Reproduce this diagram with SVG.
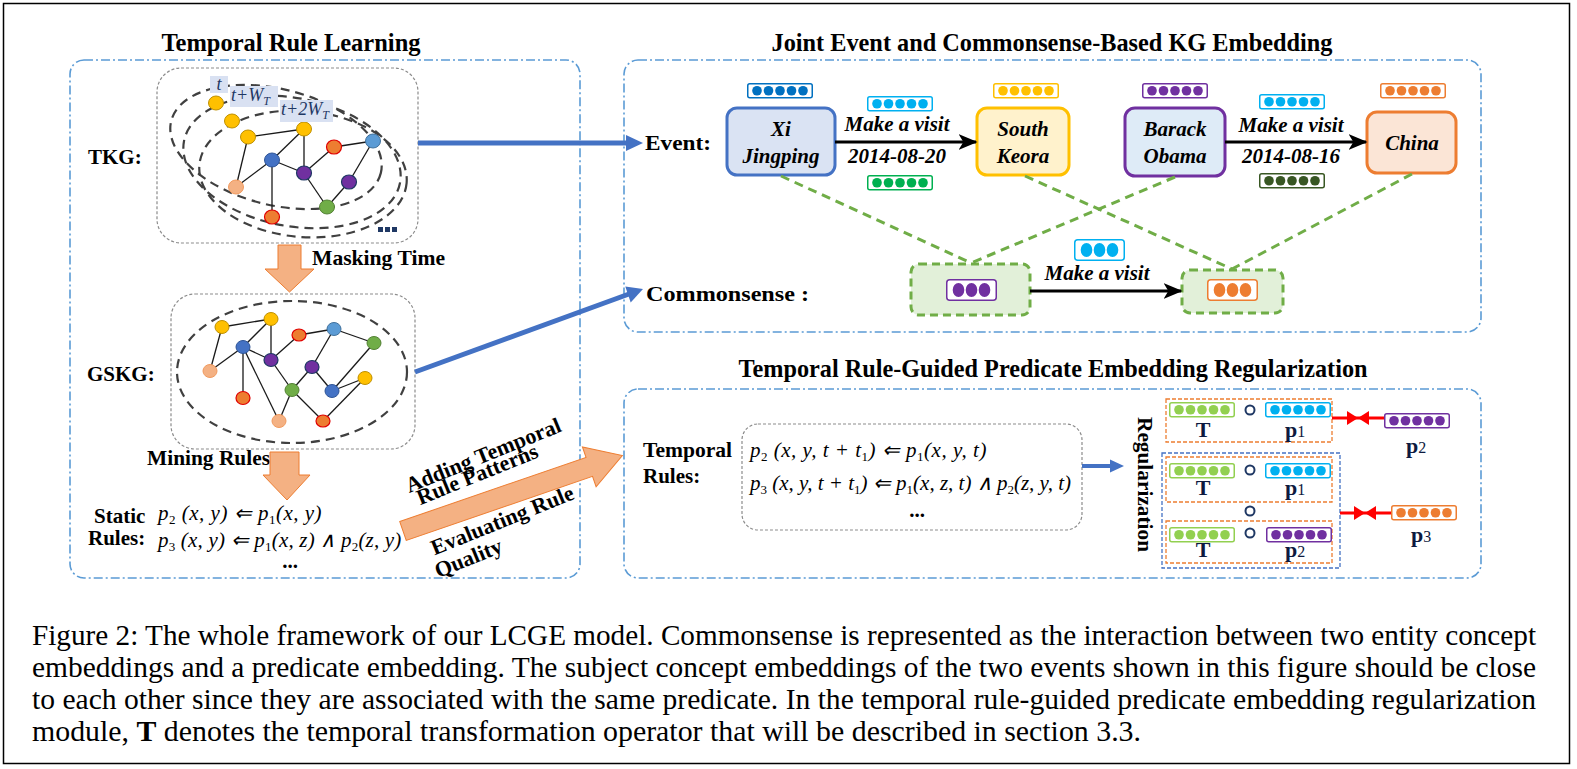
<svg xmlns="http://www.w3.org/2000/svg" width="1577" height="769" viewBox="0 0 1577 769">
<defs>
<style>
.panel{fill:none;stroke:#5B9BD5;stroke-width:1.6;stroke-dasharray:9 3 2 3}
.gbox{fill:none;stroke:#8c8c8c;stroke-width:1.2;stroke-dasharray:3 2}
.ell{fill:none;stroke:#404040;stroke-width:2.2;stroke-dasharray:9 6}
.edge{stroke:#1a1a1a;stroke-width:1.3}
.title{font-family:"Liberation Serif","Times New Roman",serif;font-weight:bold;font-size:25px;text-anchor:middle;fill:#000}
.lbl{font-family:"Liberation Serif","Times New Roman",serif;font-weight:bold;font-size:21px;fill:#000}
.ent{font-family:"Liberation Serif","Times New Roman",serif;font-weight:bold;font-style:italic;font-size:21px;text-anchor:middle;fill:#000}
.math{font-family:"Liberation Serif","Times New Roman",serif;font-style:italic;font-size:21px;letter-spacing:0.5px;fill:#000}
.sb{font-size:13px;font-style:normal}
.cap{font-family:"Liberation Serif","Times New Roman",serif;font-size:29px;fill:#000}
.tl{font-family:"Liberation Serif","Times New Roman",serif;font-style:italic;font-size:18px;fill:#1F3864}
.tlb{fill:#D9E1F2}
.gdash{stroke:#70AD47;stroke-width:3;stroke-dasharray:9 6;fill:none}
.ny{fill:#FFC000;stroke:#BF9000;stroke-width:1}
.nb{fill:#4472C4;stroke:#2F5597;stroke-width:1}
.np{fill:#7030A0;stroke:#1F3864;stroke-width:1.2}
.nr{fill:#ED7D31;stroke:#E00000;stroke-width:1.2}
.nl{fill:#5B9BD5;stroke:#41719C;stroke-width:1}
.ng{fill:#70AD47;stroke:#548235;stroke-width:1}
.npe{fill:#F4B183;stroke:#F19A5E;stroke-width:1}
.block{fill:#F4B183;stroke:#ED7D31;stroke-width:1}
.ebox{stroke-width:3}
.ob{fill:none;stroke:#ED7D31;stroke-width:1.3;stroke-dasharray:4 2}
.op{fill:none;stroke:#1F3864;stroke-width:2}
.reg{font-family:"Liberation Serif","Times New Roman",serif;font-weight:bold;font-size:22px;fill:#0D1A40;text-anchor:middle}
.sub{font-weight:normal;font-size:16px}
</style>
<g id="emb5">
<rect x="0.75" y="0.75" width="64.5" height="14" rx="2" fill="#fff" stroke="currentColor" stroke-width="1.5"/>
<circle cx="10" cy="7.75" r="4.8" fill="currentColor"/>
<circle cx="21.5" cy="7.75" r="4.8" fill="currentColor"/>
<circle cx="33" cy="7.75" r="4.8" fill="currentColor"/>
<circle cx="44.5" cy="7.75" r="4.8" fill="currentColor"/>
<circle cx="56" cy="7.75" r="4.8" fill="currentColor"/>
</g>
<g id="emb3">
<rect x="0.75" y="0.75" width="49.5" height="20.5" rx="3" fill="#fff" stroke="currentColor" stroke-width="1.5"/>
<ellipse cx="12.5" cy="11" rx="5.8" ry="7" fill="currentColor"/>
<ellipse cx="25.5" cy="11" rx="5.8" ry="7" fill="currentColor"/>
<ellipse cx="38.5" cy="11" rx="5.8" ry="7" fill="currentColor"/>
</g>
<marker id="ahk" viewBox="0 0 12 10" refX="11" refY="5" markerWidth="19" markerHeight="16" markerUnits="userSpaceOnUse" orient="auto">
<path d="M0,0 L12,5 L0,10 L3,5 z" fill="#000"/>
</marker>
</defs>

<rect x="3.5" y="3.5" width="1566" height="760" fill="#fff" stroke="#000" stroke-width="1.5"/>

<!-- panels -->
<g id="panel-left">
<rect class="panel" x="70" y="60" width="510" height="518" rx="14"/>
<text class="title" x="291" y="51" textLength="259" lengthAdjust="spacingAndGlyphs">Temporal Rule Learning</text>
</g>
<g id="panel-joint">
<rect class="panel" x="624" y="60" width="857" height="272" rx="14"/>
<text class="title" x="1052" y="51" textLength="561" lengthAdjust="spacingAndGlyphs">Joint Event and Commonsense-Based KG Embedding</text>
</g>
<g id="panel-rule">
<rect class="panel" x="624" y="389" width="857" height="189" rx="14"/>
<text class="title" x="1053" y="377" textLength="629" lengthAdjust="spacingAndGlyphs">Temporal Rule-Guided Predicate Embedding Regularization</text>
</g>

<!-- TKG -->
<g id="tkg">
<rect class="gbox" x="157" y="68" width="261" height="175" rx="24"/>
<ellipse class="ell" cx="276" cy="147" rx="108" ry="58" transform="rotate(14 276 147)"/>
<ellipse class="ell" cx="292" cy="162" rx="110" ry="64" transform="rotate(11 292 162)"/>
<ellipse class="ell" cx="303" cy="174" rx="104" ry="63" transform="rotate(5 303 174)"/>
<g>
<line class="edge" x1="248" y1="137" x2="304" y2="129"/>
<line class="edge" x1="248" y1="137" x2="236" y2="187"/>
<line class="edge" x1="304" y1="129" x2="272" y2="160"/>
<line class="edge" x1="304" y1="129" x2="304" y2="173"/>
<line class="edge" x1="272" y1="160" x2="236" y2="187"/>
<line class="edge" x1="272" y1="160" x2="304" y2="173"/>
<line class="edge" x1="272" y1="160" x2="272" y2="217"/>
<line class="edge" x1="304" y1="173" x2="334" y2="147"/>
<line class="edge" x1="304" y1="173" x2="327" y2="207"/>
<line class="edge" x1="334" y1="147" x2="373" y2="141"/>
<line class="edge" x1="373" y1="141" x2="349" y2="182"/>
<line class="edge" x1="349" y1="182" x2="327" y2="207"/>
</g>
<ellipse class="ny" cx="216" cy="103" rx="7.5" ry="7"/>
<ellipse class="ny" cx="232" cy="121" rx="7.5" ry="7"/>
<ellipse class="ny" cx="248" cy="137" rx="7.5" ry="7"/>
<ellipse class="ny" cx="304" cy="129" rx="7.5" ry="7"/>
<ellipse class="nb" cx="272" cy="160" rx="7.5" ry="7"/>
<ellipse class="np" cx="304" cy="173" rx="7.5" ry="7"/>
<ellipse class="nr" cx="334" cy="147" rx="7.5" ry="7"/>
<ellipse class="nl" cx="373" cy="141" rx="7.5" ry="7"/>
<ellipse class="np" cx="349" cy="182" rx="7.5" ry="7"/>
<ellipse class="ng" cx="327" cy="207" rx="7.5" ry="7"/>
<ellipse class="npe" cx="236" cy="187" rx="7.5" ry="7"/>
<ellipse class="nr" cx="272" cy="217" rx="7.5" ry="7"/>
<rect class="tlb" x="210" y="76" width="18" height="17"/>
<text class="tl" x="219" y="90" text-anchor="middle">t</text>
<rect class="tlb" x="230" y="86" width="48" height="21"/>
<text class="tl" x="231" y="101">t+W<tspan font-size="12" dy="4">T</tspan></text>
<rect class="tlb" x="280" y="100" width="53" height="22"/>
<text class="tl" x="281" y="115">t+2W<tspan font-size="12" dy="4">T</tspan></text>
<rect x="378" y="227" width="5" height="5" fill="#1F3864"/>
<rect x="385" y="227" width="5" height="5" fill="#1F3864"/>
<rect x="392" y="227" width="5" height="5" fill="#1F3864"/>
<text class="lbl" x="88" y="164">TKG:</text>
</g>

<!-- GSKG -->
<g id="gskg">
<rect class="gbox" x="171" y="294" width="244" height="155" rx="24"/>
<ellipse class="ell" cx="292" cy="372" rx="115" ry="71"/>
<g>
<line class="edge" x1="222" y1="327" x2="271" y2="319"/>
<line class="edge" x1="222" y1="327" x2="210" y2="371"/>
<line class="edge" x1="271" y1="319" x2="243" y2="347"/>
<line class="edge" x1="271" y1="319" x2="271" y2="360"/>
<line class="edge" x1="243" y1="347" x2="210" y2="371"/>
<line class="edge" x1="243" y1="347" x2="271" y2="360"/>
<line class="edge" x1="243" y1="347" x2="243" y2="398"/>
<line class="edge" x1="243" y1="347" x2="279" y2="421"/>
<line class="edge" x1="271" y1="360" x2="299" y2="335"/>
<line class="edge" x1="271" y1="360" x2="292" y2="390"/>
<line class="edge" x1="299" y1="335" x2="334" y2="329"/>
<line class="edge" x1="334" y1="329" x2="312" y2="367"/>
<line class="edge" x1="334" y1="329" x2="374" y2="343"/>
<line class="edge" x1="374" y1="343" x2="332" y2="391"/>
<line class="edge" x1="312" y1="367" x2="292" y2="390"/>
<line class="edge" x1="312" y1="367" x2="332" y2="391"/>
<line class="edge" x1="332" y1="391" x2="365" y2="378"/>
<line class="edge" x1="292" y1="390" x2="279" y2="421"/>
<line class="edge" x1="292" y1="390" x2="323" y2="421"/>
<line class="edge" x1="365" y1="378" x2="323" y2="421"/>
</g>
<ellipse class="ny" cx="222" cy="327" rx="7" ry="6.5"/>
<ellipse class="ny" cx="271" cy="319" rx="7" ry="6.5"/>
<ellipse class="nb" cx="243" cy="347" rx="7" ry="6.5"/>
<ellipse class="npe" cx="210" cy="371" rx="7" ry="6.5"/>
<ellipse class="nr" cx="243" cy="398" rx="7" ry="6.5"/>
<ellipse class="np" cx="271" cy="360" rx="7" ry="6.5"/>
<ellipse class="nr" cx="299" cy="335" rx="7" ry="6"/>
<ellipse class="nl" cx="334" cy="329" rx="7" ry="6.5"/>
<ellipse class="ng" cx="374" cy="343" rx="7" ry="6.5"/>
<ellipse class="np" cx="312" cy="367" rx="7" ry="6.5"/>
<ellipse class="ng" cx="292" cy="390" rx="7" ry="6.5"/>
<ellipse class="nb" cx="332" cy="391" rx="7" ry="6.5"/>
<ellipse class="ny" cx="365" cy="378" rx="7" ry="6.5"/>
<ellipse class="npe" cx="279" cy="421" rx="7" ry="6.5"/>
<ellipse class="nr" cx="323" cy="421" rx="7" ry="6"/>
<text class="lbl" x="87" y="381">GSKG:</text>
</g>

<g id="masking-label"><text class="lbl" x="312" y="265" font-size="22" textLength="133" lengthAdjust="spacingAndGlyphs">Masking Time</text></g>
<g id="mining-label"><text class="lbl" x="147" y="465" font-size="22" textLength="123" lengthAdjust="spacingAndGlyphs">Mining Rules</text></g>

<!-- static rules -->
<g id="static-rules">
<text class="lbl" x="94" y="523" font-size="22">Static</text>
<text class="lbl" x="88" y="545" font-size="22">Rules:</text>
<text class="math" x="158" y="520">p<tspan class="sb" dy="4">2</tspan><tspan dy="-4"> (x, y) ⇐ p</tspan><tspan class="sb" dy="4">1</tspan><tspan dy="-4">(x, y)</tspan></text>
<text class="math" x="158" y="547" style="letter-spacing:0.2px">p<tspan class="sb" dy="4">3</tspan><tspan dy="-4"> (x, y) ⇐ p</tspan><tspan class="sb" dy="4">1</tspan><tspan dy="-4">(x, z) ∧ p</tspan><tspan class="sb" dy="4">2</tspan><tspan dy="-4">(z, y)</tspan></text>
<text class="lbl" x="290" y="568" text-anchor="middle" font-size="17">...</text>
</g>

<!-- diagonal arrow labels -->
<g id="adding-label" font-family="Liberation Serif, Times New Roman, serif" font-weight="bold" font-size="22" text-anchor="middle">
<text x="486" y="462" transform="rotate(-22 486 462)">Adding Temporal</text>
<text x="480" y="481" transform="rotate(-22 480 481)">Rule Patterns</text>
<text x="505" y="527" transform="rotate(-22 505 527)">Evaluating Rule</text>
<text x="471" y="565" transform="rotate(-22 471 565)">Quality</text>
</g>

<!-- Event row -->
<g id="event-label"><text class="lbl" x="645" y="150" font-size="24" textLength="66" lengthAdjust="spacingAndGlyphs">Event:</text></g>
<g id="xi">
<rect class="ebox" x="727" y="108" width="108" height="67" rx="10" fill="#DAE3F3" stroke="#4472C4"/>
<text class="ent" x="781" y="136">Xi</text>
<text class="ent" x="781" y="163">Jingping</text>
<use href="#emb5" x="747" y="83" style="color:#0070C0"/>
</g>
<g id="south-keora">
<rect class="ebox" x="977" y="108" width="92" height="67" rx="10" fill="#FFF2CC" stroke="#FFC000"/>
<text class="ent" x="1023" y="136">South</text>
<text class="ent" x="1023" y="163">Keora</text>
<use href="#emb5" x="993" y="83" style="color:#FFC000"/>
</g>
<g id="barack">
<rect class="ebox" x="1125" y="108" width="100" height="68" rx="10" fill="#DEEBF7" stroke="#7030A0"/>
<text class="ent" x="1175" y="136">Barack</text>
<text class="ent" x="1175" y="163">Obama</text>
<use href="#emb5" x="1142" y="83" style="color:#7030A0"/>
</g>
<g id="china">
<rect class="ebox" x="1367" y="112" width="89" height="61" rx="10" fill="#FBE5D6" stroke="#ED7D31"/>
<text class="ent" x="1412" y="150">China</text>
<use href="#emb5" x="1380" y="83" style="color:#ED7D31"/>
</g>
<g id="rel1">
<use href="#emb5" x="867" y="96" style="color:#00B0F0"/>
<text class="ent" x="897" y="131">Make a visit</text>
<text class="ent" x="897" y="163">2014-08-20</text>
<use href="#emb5" x="867" y="175" style="color:#00B050"/>
</g>
<g id="rel2">
<use href="#emb5" x="1259" y="94" style="color:#00B0F0"/>
<text class="ent" x="1291" y="132">Make a visit</text>
<text class="ent" x="1291" y="163">2014-08-16</text>
<use href="#emb5" x="1259" y="173" style="color:#385723"/>
</g>

<!-- Commonsense row -->
<g id="commonsense-label"><text class="lbl" x="646" y="301" font-size="25" textLength="163" lengthAdjust="spacingAndGlyphs">Commonsense :</text></g>
<g id="cs1">
<rect x="911" y="264" width="119" height="51" rx="8" fill="#E2F0D9" stroke="#70AD47" stroke-width="3" stroke-dasharray="8 5"/>
<use href="#emb3" x="946" y="279" style="color:#7030A0"/>
</g>
<g id="cs2">
<rect x="1182" y="270" width="101" height="43" rx="8" fill="#E2F0D9" stroke="#70AD47" stroke-width="3" stroke-dasharray="8 5"/>
<use href="#emb3" x="1207" y="279" style="color:#ED7D31"/>
</g>
<g id="cs-rel">
<use href="#emb3" x="1074" y="239" style="color:#00B0F0"/>
<text class="ent" x="1097" y="280">Make a visit</text>
</g>

<!-- Temporal rules -->
<g id="temporal-rules">
<text class="lbl" x="643" y="457" font-size="22" textLength="89" lengthAdjust="spacingAndGlyphs">Temporal</text>
<text class="lbl" x="643" y="483" font-size="22">Rules:</text>
<rect class="gbox" x="742" y="424" width="340" height="106" rx="16"/>
<text class="math" x="750" y="457">p<tspan class="sb" dy="4">2</tspan><tspan dy="-4"> (x, y, t + t</tspan><tspan class="sb" dy="4">1</tspan><tspan dy="-4">) ⇐ p</tspan><tspan class="sb" dy="4">1</tspan><tspan dy="-4">(x, y, t)</tspan></text>
<text class="math" x="750" y="490" style="letter-spacing:0px">p<tspan class="sb" dy="4">3</tspan><tspan dy="-4"> (x, y, t + t</tspan><tspan class="sb" dy="4">1</tspan><tspan dy="-4">) ⇐ p</tspan><tspan class="sb" dy="4">1</tspan><tspan dy="-4">(x, z, t) ∧ p</tspan><tspan class="sb" dy="4">2</tspan><tspan dy="-4">(z, y, t)</tspan></text>
<text class="lbl" x="917" y="517" text-anchor="middle" font-size="17">...</text>
</g>

<!-- Regularization -->
<g id="regularization">
<text font-family="Liberation Serif, Times New Roman, serif" font-weight="bold" font-size="22" fill="#000" transform="translate(1138 417) rotate(90)" textLength="135" lengthAdjust="spacingAndGlyphs">Regularization</text>
<rect class="ob" x="1166" y="399" width="166" height="43"/>
<use href="#emb5" x="1169" y="402" style="color:#92D050"/>
<circle class="op" cx="1250" cy="410" r="4.5"/>
<use href="#emb5" x="1265" y="402" style="color:#00B0F0"/>
<text class="reg" x="1203" y="437">T</text>
<text class="reg" x="1295" y="437">p<tspan class="sub">1</tspan></text>
<rect x="1162" y="453" width="178" height="115" fill="none" stroke="#4472C4" stroke-width="1.3" stroke-dasharray="4 2"/>
<rect class="ob" x="1166" y="457" width="166" height="45"/>
<use href="#emb5" x="1169" y="463" style="color:#92D050"/>
<circle class="op" cx="1250" cy="470" r="4.5"/>
<use href="#emb5" x="1265" y="463" style="color:#00B0F0"/>
<text class="reg" x="1203" y="495">T</text>
<text class="reg" x="1295" y="495">p<tspan class="sub">1</tspan></text>
<circle class="op" cx="1250" cy="511" r="4.5"/>
<rect class="ob" x="1166" y="521" width="166" height="42"/>
<use href="#emb5" x="1169" y="527" style="color:#92D050"/>
<circle class="op" cx="1250" cy="533" r="4.5"/>
<use href="#emb5" x="1266" y="527" style="color:#7030A0"/>
<text class="reg" x="1203" y="557">T</text>
<text class="reg" x="1295" y="557">p<tspan class="sub">2</tspan></text>
</g>
<g id="p2-target">
<use href="#emb5" x="1384" y="413" style="color:#7030A0"/>
<text class="reg" x="1416" y="453">p<tspan class="sub">2</tspan></text>
</g>
<g id="p3-target">
<use href="#emb5" x="1391" y="505" style="color:#ED7D31"/>
<text class="reg" x="1421" y="542">p<tspan class="sub">3</tspan></text>
</g>

<!-- connectors -->
<g id="connectors">
<path class="block" d="M278,245 H301 V269 H314 L289.5,292 L265,269 H278 Z"/>
<path class="block" d="M270,452 H299 V475 H310 L287,500 L263,475 H270 Z"/>
<path class="block" d="M0,-10 H197 V-21 L232,0 L197,21 V10 H0 Z" transform="translate(403 531) rotate(-19)"/>
<line x1="418" y1="143" x2="628" y2="143" stroke="#4472C4" stroke-width="5"/>
<polygon points="626,135 643,143 626,151" fill="#4472C4"/>
<line x1="415" y1="372" x2="629" y2="294" stroke="#4472C4" stroke-width="5"/>
<polygon points="625.3,286.5 643,289 630.7,302.5" fill="#4472C4"/>
<line x1="1082" y1="466" x2="1112" y2="466" stroke="#4472C4" stroke-width="4"/>
<polygon points="1110,459.5 1124,466 1110,472.5" fill="#4472C4"/>
<line x1="835" y1="142" x2="976" y2="142" stroke="#000" stroke-width="3" marker-end="url(#ahk)"/>
<line x1="1225" y1="142" x2="1366" y2="142" stroke="#000" stroke-width="3" marker-end="url(#ahk)"/>
<line x1="1030" y1="291" x2="1181" y2="291" stroke="#000" stroke-width="3" marker-end="url(#ahk)"/>
<line class="gdash" x1="781" y1="176" x2="971" y2="263"/>
<line class="gdash" x1="1175" y1="177" x2="971" y2="263"/>
<line class="gdash" x1="1025" y1="176" x2="1232" y2="269"/>
<line class="gdash" x1="1412" y1="174" x2="1232" y2="269"/>
<line x1="1332" y1="418" x2="1384" y2="418" stroke="#FF0000" stroke-width="3"/>
<polygon points="1347,411 1358,418 1347,425" fill="#FF0000"/>
<polygon points="1369,411 1358,418 1369,425" fill="#FF0000"/>
<line x1="1340" y1="513" x2="1391" y2="513" stroke="#FF0000" stroke-width="3"/>
<polygon points="1354,506 1365,513 1354,520" fill="#FF0000"/>
<polygon points="1376,506 1365,513 1376,520" fill="#FF0000"/>
</g>

<!-- caption -->
<g id="caption">
<text class="cap" x="32" y="645" textLength="1504" lengthAdjust="spacingAndGlyphs">Figure 2: The whole framework of our LCGE model. Commonsense is represented as the interaction between two entity concept</text>
<text class="cap" x="32" y="677" textLength="1504" lengthAdjust="spacingAndGlyphs">embeddings and a predicate embedding. The subject concept embeddings of the two events shown in this figure should be close</text>
<text class="cap" x="32" y="709" textLength="1504" lengthAdjust="spacingAndGlyphs">to each other since they are associated with the same predicate. In the temporal rule-guided predicate embedding regularization</text>
<text class="cap" x="32" y="741" textLength="1109" lengthAdjust="spacingAndGlyphs">module, <tspan font-weight="bold">T</tspan> denotes the temporal transformation operator that will be described in section 3.3.</text>
</g>
</svg>
